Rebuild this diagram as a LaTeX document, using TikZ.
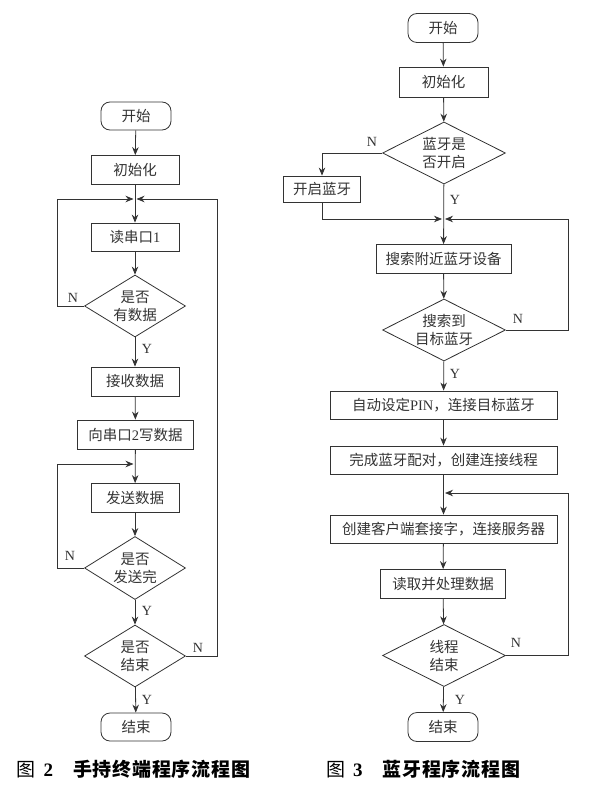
\documentclass[tikz,border=0pt]{standalone}
\usepackage{fontspec}
\setmainfont{Liberation Serif}
\newfontfamily\cjk{Noto Sans CJK SC}
\usetikzlibrary{shapes.geometric,arrows.meta}
\definecolor{ink}{HTML}{333333}
\tikzset{
  base/.style={draw=ink, line width=0.8pt, text=ink, inner sep=0pt, font=\cjk\fontsize{14.5}{18}\selectfont},
  box/.style={base, rectangle, minimum height=29pt},
  term/.style={base, rectangle, rounded corners=9pt, minimum width=70pt, minimum height=28pt},
  dec/.style={draw=ink, line width=0.8pt, diamond, inner sep=0pt},
  dtext/.style={text=ink, align=center, inner sep=0pt, font=\cjk\fontsize{14.5}{18}\selectfont},
  lab/.style={text=ink, inner sep=0pt, font=\fontsize{14}{16}\selectfont},
  captxt/.style={text=black, inner sep=0pt, anchor=west, font=\fontsize{19}{22}\selectfont},
  conn/.style={draw=ink, line width=0.8pt, -{Stealth[length=8pt,width=6.5pt]}},
  jconn/.style={conn, shorten >=1.5pt}
}
\begin{document}
\begin{tikzpicture}[x=1pt,y=-1pt]
\useasboundingbox (0,0) rectangle (598,789);
% ---------- left chart ----------
\node[term] (Ls) at (136,116) {开始};
\node[box, minimum width=88pt] (Li) at (135,170) {初始化};
\coordinate (Lj1) at (135,199);
\node[box, minimum width=88pt, minimum height=28pt] (Lr1) at (135,237) {读串口\fontspec{Liberation Serif}1};
\node[dec, minimum width=101pt, minimum height=62pt] (Ld1) at (135,306) {};
\node[dtext] (Ld1t) at (Ld1.center) {是否\\有数据};
\node[box, minimum width=88pt] (Lrecv) at (135,381.5) {接收数据};
\node[box, minimum width=116pt] (Lw) at (135.5,434.5) {向串口{\fontspec{Liberation Serif}2}写数据};
\coordinate (Lj2) at (135,464);
\node[box, minimum width=88pt] (Lsend) at (135,498) {发送数据};
\node[dec, minimum width=101pt, minimum height=63pt] (Ld2) at (135,568) {};
\node[dtext] (Ld2t) at (Ld2.center) {是否\\发送完};
\node[dec, minimum width=101pt, minimum height=62pt] (Ld3) at (135,656) {};
\node[dtext] (Ld3t) at (Ld3.center) {是否\\结束};
\node[term] (Le) at (136,727) {结束};
\coordinate (Lxl1) at (57,199);
\coordinate (Lxl2) at (57,464);
\coordinate (Lxr) at (217,199);

\draw[conn] (Ls) -- (Li);
\draw[conn] (Li) -- (Lr1);
\draw[conn] (Lr1) -- (Ld1);
\draw[jconn] (Ld1.west) -| (Lxl1) -- (Lj1);
\draw[conn] (Ld1) -- (Lrecv);
\draw[conn] (Lrecv) -- (Lw);
\draw[conn] (Lw) -- (Lsend);
\draw[conn] (Lsend) -- (Ld2);
\draw[jconn] (Ld2.west) -| (Lxl2) -- (Lj2);
\draw[conn] (Ld2) -- (Ld3);
\draw[conn] (Ld3) -- (Le);
\draw[jconn] (Ld3.east) -| (Lxr) -- (Lj1);

\node[lab] (LN1) at (73,298) {N};
\node[lab] (LY1) at (147,349) {Y};
\node[lab] (LN2) at (70,556) {N};
\node[lab] (LY2) at (147,611) {Y};
\node[lab] (LN3) at (198,648) {N};
\node[lab] (LY3) at (147,700) {Y};

% ---------- right chart ----------
\node[term, minimum height=29pt] (Rs) at (443,28) {开始};
\node[box, minimum width=89pt, minimum height=30pt] (Ri) at (443.5,82) {初始化};
\node[dec, minimum width=123pt, minimum height=62pt] (Rd1) at (444,153) {};
\node[dtext] (Rd1t) at (Rd1.center) {蓝牙是\\否开启};
\node[box, minimum width=77pt, minimum height=26pt] (Ro) at (322,189) {开启蓝牙};
\coordinate (Rj1) at (443.5,219);
\node[box, minimum width=135pt] (Rsr) at (443.5,259) {搜索附近蓝牙设备};
\node[dec, minimum width=123pt, minimum height=62pt] (Rd2) at (444,330) {};
\node[dtext] (Rd2t) at (Rd2.center) {搜索到\\目标蓝牙};
\node[box, minimum width=227pt, minimum height=28pt] (Rpin) at (443.5,405) {自动设定{\fontspec{Liberation Serif}PIN}，连接目标蓝牙};
\node[box, minimum width=227pt, minimum height=28pt] (Rpair) at (443.5,460) {完成蓝牙配对，创建连接线程};
\coordinate (Rj2) at (443.5,493);
\node[box, minimum width=227pt, minimum height=28pt] (Rsock) at (443.5,529) {创建客户端套接字，连接服务器};
\node[box, minimum width=125pt] (Rrd) at (443,584) {读取并处理数据};
\node[dec, minimum width=123pt, minimum height=62pt] (Rd3) at (444,655.5) {};
\node[dtext] (Rd3t) at (Rd3.center) {线程\\结束};
\node[term, minimum height=29pt] (Re) at (443,727) {结束};
\coordinate (Rxr1) at (568,219);
\coordinate (Rxr2) at (568,493);

\draw[conn] (Rs) -- (Ri);
\draw[conn] (Ri) -- (Rd1);
\draw[conn] (Rd1.west) -| (Ro);
\draw[jconn] (Ro) |- (Rj1);
\draw[conn] (Rd1) -- (Rsr);
\draw[conn] (Rsr) -- (Rd2);
\draw[jconn] (Rd2.east) -| (Rxr1) -- (Rj1);
\draw[conn] (Rd2) -- (Rpin);
\draw[conn] (Rpin) -- (Rpair);
\draw[conn] (Rpair) -- (Rsock);
\draw[conn] (Rsock) -- (Rrd);
\draw[conn] (Rrd) -- (Rd3);
\draw[conn] (Rd3) -- (Re);
\draw[jconn] (Rd3.east) -| (Rxr2) -- (Rj2);

\node[lab] (RN1) at (372,142) {N};
\node[lab] (RY1) at (455,200) {Y};
\node[lab] (RN2) at (518,319) {N};
\node[lab] (RY2) at (455,374) {Y};
\node[lab] (RN3) at (516,643) {N};
\node[lab] (RY3) at (460,700) {Y};

% ---------- captions ----------
\node[captxt] (C2) at (16.5,769) {{\cjk 图}\hspace{8pt}{\bfseries 2}\hspace{20pt}{\cjk\addfontfeature{LetterSpace=4}\bfseries 手持终端程序流程图}};
\node[captxt] (C3) at (326,769) {{\cjk 图}\hspace{8pt}{\bfseries 3}\hspace{20pt}{\cjk\addfontfeature{LetterSpace=4}\bfseries 蓝牙程序流程图}};
\end{tikzpicture}
\end{document}
